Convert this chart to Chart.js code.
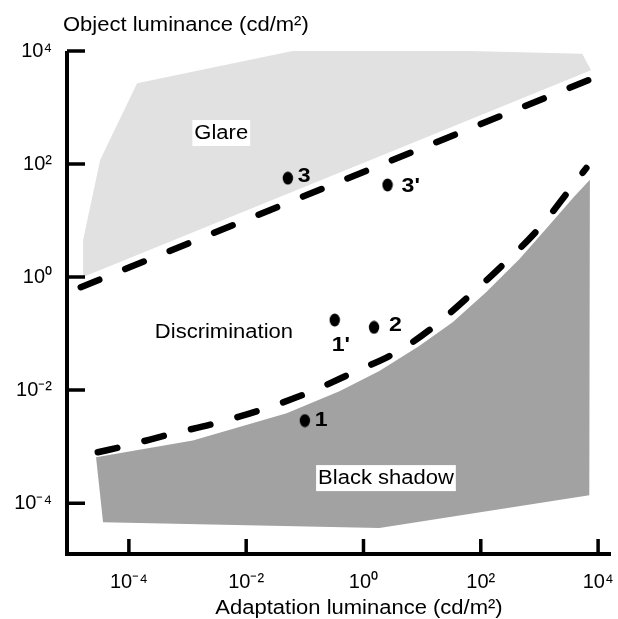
<!DOCTYPE html>
<html>
<head>
<meta charset="utf-8">
<script src="https://cdn.jsdelivr.net/npm/chart.js@4.4.0/dist/chart.umd.min.js"></script>
<style>
html, body { margin: 0; padding: 0; background: #fff; }
#wrap { width: 618px; height: 619px; }
</style>
</head>
<body>
<div id="wrap"><canvas id="chart"></canvas></div>
<script>
// every value here is log10 of a luminance in cd/m2
var xTicks = [-4, -2, 0, 2, 4];
var yTicks = [-4, -2, 0, 2, 4];

var glareX = [-4.78, -4.78, -4.49, -3.86, -0.885, 3.73, 3.88];
var glareY = [0.0, 0.655, 2.07, 3.43, 4.07, 3.95, 3.66];

var shadowX = [-4.56, -2.91, -1.31, -0.41, 0.27, 0.95, 1.52, 2.09, 2.66, 3.17, 3.59, 3.86, 3.85, 0.27, -4.44];
var shadowY = [-3.19, -2.89, -2.41, -2.02, -1.66, -1.22, -0.80, -0.27, 0.32, 0.92, 1.42, 1.72, -3.86, -4.44, -4.34];

var glareLimitX = [-4.82, 3.92];
var glareLimitY = [-0.18, 3.52];

var shadowLimitX = [-4.53, -4.07, -3.29, -2.50, -1.72, -0.95, -0.20, 0.56, 1.12, 1.84, 2.43, 3.00, 3.51, 3.80];
var shadowLimitY = [-3.10, -2.99, -2.78, -2.58, -2.34, -2.05, -1.70, -1.33, -0.94, -0.30, 0.27, 0.87, 1.54, 1.93];

var pointNames = ['3', "3'", "1'", '2', '1'];
var pointX = [-1.29, 0.41, -0.49, 0.18, -1.00];
var pointY = [1.75, 1.63, -0.76, -0.89, -2.54];

// where the labels sit (log units) and how the point names are offset (px)
var regionLabels = [
	{ text: 'Glare', x: -2.425, y: 2.549, align: 'center', box: true },
	{ text: 'Discrimination', x: -3.557, y: -0.973, align: 'left', box: false },
	{ text: 'Black shadow', x: 0.383, y: -3.557, align: 'center', box: true }
];
var nameOffsets = [[10, -2], [14, 1], [-3, 25], [15, -2], [10, 0]];

var FONT = '"Liberation Sans", Arial, sans-serif';
var STRETCH = 1.1;

function pts(xs, ys) {
	return xs.map(function(v, i) {
		return { x: Math.pow(10, v), y: Math.pow(10, ys[i]) };
	});
}

var sup = { '-': '\u207B', '0': '\u2070', '2': '\u00B2', '4': '\u2074' };
function tickLabel(v) {
	var e = String(Math.round(Math.log10(v)));
	var s = '';
	for (var i = 0; i < e.length; i++) s += sup[e[i]];
	return '10' + s;
}

// black dot, a little taller than wide
var dot = document.createElement('canvas');
dot.width = 12;
dot.height = 14;
var dctx = dot.getContext('2d');
dctx.fillStyle = '#000';
dctx.beginPath();
dctx.ellipse(6, 7, 5.2, 6.4, 0, 0, Math.PI * 2);
dctx.fill();

function wideText(ctx, str, x, y, align) {
	ctx.save();
	ctx.translate(x, y);
	ctx.scale(STRETCH, 1);
	ctx.textAlign = align;
	ctx.fillText(str, 0, 0);
	ctx.restore();
}

var decor = {
	id: 'decor',
	afterDatasetsDraw: function(chart) {
		var ctx = chart.ctx, xs = chart.scales.x, ys = chart.scales.y;
		ctx.save();
		ctx.font = '20px ' + FONT;
		ctx.textBaseline = 'middle';
		regionLabels.forEach(function(l) {
			var px = xs.getPixelForValue(Math.pow(10, l.x));
			var py = ys.getPixelForValue(Math.pow(10, l.y));
			if (l.box) {
				var w = ctx.measureText(l.text).width * STRETCH + 4;
				ctx.fillStyle = '#fff';
				ctx.fillRect(px - w / 2, py - 13, w, 26);
			}
			ctx.fillStyle = '#000';
			wideText(ctx, l.text, px, py, l.align);
		});
		ctx.font = 'bold 21px ' + FONT;
		pointNames.forEach(function(n, i) {
			var px = xs.getPixelForValue(Math.pow(10, pointX[i]));
			var py = ys.getPixelForValue(Math.pow(10, pointY[i]));
			wideText(ctx, n, px + nameOffsets[i][0], py + nameOffsets[i][1], 'left');
		});
		ctx.restore();
	},
	afterDraw: function(chart) {
		var ctx = chart.ctx, a = chart.chartArea, xs = chart.scales.x, ys = chart.scales.y;
		ctx.save();
		ctx.strokeStyle = '#000';
		ctx.lineWidth = 4;
		ctx.lineJoin = 'miter';
		ctx.beginPath();
		ctx.moveTo(a.left, a.top);
		ctx.lineTo(a.left, a.bottom);
		ctx.lineTo(a.right, a.bottom);
		ctx.stroke();
		// ticks point into the plot
		ctx.lineWidth = 3.5;
		ctx.beginPath();
		xs.ticks.forEach(function(t) {
			var px = xs.getPixelForValue(t.value);
			ctx.moveTo(px, a.bottom);
			ctx.lineTo(px, a.bottom - 15);
		});
		ys.ticks.forEach(function(t) {
			var py = ys.getPixelForValue(t.value);
			ctx.moveTo(a.left, py);
			ctx.lineTo(a.left + 18, py);
		});
		ctx.stroke();
		ctx.fillStyle = '#000';
		ctx.font = '20px ' + FONT;
		ctx.textBaseline = 'alphabetic';
		wideText(ctx, 'Object luminance (cd/m\u00B2)', 63, 31, 'left');
		wideText(ctx, 'Adaptation luminance (cd/m\u00B2)', 359, 614, 'center');
		ctx.restore();
	}
};

Chart.defaults.font.family = FONT;
Chart.defaults.color = '#000';

new Chart(document.getElementById('chart'), {
	type: 'scatter',
	data: {
		datasets: [
			{
				label: 'Glare',
				data: pts(glareX, glareY),
				showLine: true,
				fill: 'shape',
				backgroundColor: '#e1e1e1',
				borderColor: 'rgba(0,0,0,0)',
				borderWidth: 0,
				pointRadius: 0,
				tension: 0,
				clip: false,
				order: 4
			},
			{
				label: 'Black shadow',
				data: pts(shadowX, shadowY),
				showLine: true,
				fill: 'shape',
				backgroundColor: '#a2a2a2',
				borderColor: 'rgba(0,0,0,0)',
				borderWidth: 0,
				pointRadius: 0,
				tension: 0,
				order: 4
			},
			{
				label: 'Glare limit',
				data: pts(glareLimitX, glareLimitY),
				showLine: true,
				fill: false,
				borderColor: '#000',
				borderWidth: 6.5,
				borderDash: [20, 28],
				borderCapStyle: 'round',
				pointRadius: 0,
				order: 2
			},
			{
				label: 'Shadow limit',
				data: pts(shadowLimitX, shadowLimitY),
				showLine: true,
				fill: false,
				borderColor: '#000',
				borderWidth: 6.5,
				borderDash: [20, 28],
				borderCapStyle: 'round',
				cubicInterpolationMode: 'monotone',
				pointRadius: 0,
				order: 2
			},
			{
				label: 'Conditions',
				data: pts(pointX, pointY),
				showLine: false,
				pointStyle: dot,
				pointRadius: 6,
				order: 1
			}
		]
	},
	options: {
		responsive: true,
		maintainAspectRatio: false,
		animation: false,
		events: [],
		layout: { padding: { top: 51, right: 6, left: 0, bottom: 0 } },
		plugins: {
			legend: { display: false },
			tooltip: { enabled: false },
			title: { display: false }
		},
		scales: {
			x: {
				type: 'logarithmic',
				position: 'bottom',
				min: Math.pow(10, -5.055),
				max: Math.pow(10, 4.22),
				afterBuildTicks: function(s) {
					s.ticks = xTicks.map(function(e) { return { value: Math.pow(10, e) }; });
				},
				afterFit: function(s) {
					s.height = 65;
					s.paddingLeft = 0;
					s.paddingRight = 0;
				},
				ticks: {
					font: { size: 20 },
					color: '#000',
					padding: 16,
					maxRotation: 0,
					autoSkip: false,
					callback: tickLabel
				},
				grid: { display: false, drawTicks: false },
				border: { display: false }
			},
			y: {
				type: 'logarithmic',
				position: 'left',
				min: Math.pow(10, -4.9),
				max: Math.pow(10, 4),
				afterBuildTicks: function(s) {
					s.ticks = yTicks.map(function(e) { return { value: Math.pow(10, e) }; });
				},
				afterFit: function(s) {
					s.width = 67;
					s.paddingTop = 0;
					s.paddingBottom = 0;
				},
				ticks: {
					font: { size: 20 },
					color: '#000',
					padding: 15,
					autoSkip: false,
					callback: tickLabel
				},
				grid: { display: false, drawTicks: false },
				border: { display: false }
			}
		}
	},
	plugins: [decor]
});
</script>
</body>
</html>
